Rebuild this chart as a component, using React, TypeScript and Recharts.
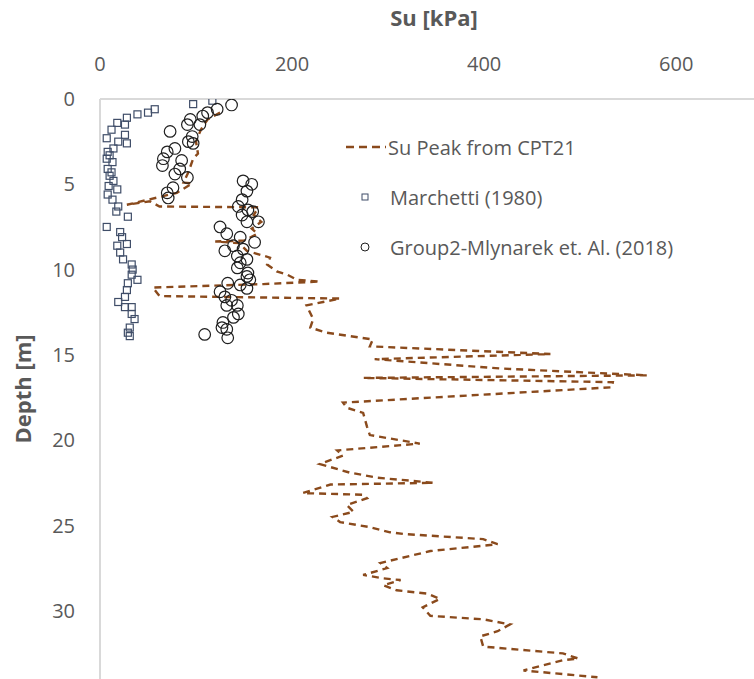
import { ScatterChart, Scatter, XAxis, YAxis, Legend } from 'recharts';

const SU_TICKS = [0, 200, 400, 600];
const DEPTH_TICKS = [0, 5, 10, 15, 20, 25, 30];

// Su Peak from CPT21 (dashed trace, in depth order)
const cptSu = [
  125, 112, 105, 100, 102, 97, 92, 87, 96, 80, 28, 52, 62, 165, 160, 168, 158, 164, 150, 120,
  145, 153, 177, 174, 184, 195, 205, 229, 170, 55, 62, 250, 215, 222, 219, 236, 284, 281, 469, 286,
  418, 570, 274, 534, 533, 253, 257, 274, 278, 281, 333, 247, 253, 229, 260, 289, 347, 240, 211, 274,
  278, 257, 264, 242, 250, 281, 302, 316, 399, 414, 344, 292, 299, 274, 295, 313, 295, 309, 341, 354,
  336, 344, 399, 427, 414, 396, 399, 482, 498, 482, 441, 518,
];
const cptDepth = [
  0.8, 1.2, 1.8, 2.5, 3.2, 3.5, 4.3, 4.9, 4.95, 5.5, 6.2, 6.0, 6.3, 6.35, 6.8, 7.2, 7.6, 7.9, 8.3, 8.35,
  8.45, 8.9, 9.3, 9.7, 10.1, 10.3, 10.6, 10.7, 10.85, 11.05, 11.55, 11.7, 12.1, 12.9, 13.4, 13.7, 14.1, 14.5, 14.95, 15.25,
  15.8, 16.2, 16.35, 16.6, 16.9, 17.8, 18.1, 18.4, 19.2, 19.7, 20.2, 20.6, 20.9, 21.4, 21.9, 22.2, 22.5, 22.6, 23.1, 23.2,
  23.4, 23.8, 24.2, 24.5, 24.8, 25.1, 25.4, 25.5, 25.8, 26.1, 26.5, 27.2, 27.5, 27.9, 28.1, 28.2, 28.5, 28.8, 29.0, 29.3,
  29.8, 30.3, 30.5, 30.8, 31.2, 31.5, 32.1, 32.5, 32.8, 32.9, 33.5, 33.9,
];

// Marchetti (1980)
const marchettiSu = [
  97, 117, 57, 50, 39, 28, 18, 26, 12, 26, 7, 19, 28, 14, 8, 10, 7, 13, 12, 8, 10, 14, 9, 18, 8, 13,
  19, 17, 29, 7, 21, 23, 28, 18, 21, 24, 33, 34, 33, 39, 29, 28, 26, 19, 26, 33, 33, 36, 31, 29, 31,
];
const marchettiDepth = [
  0.3, 0.1, 0.6, 0.8, 0.9, 1.1, 1.4, 1.5, 1.8, 2.1, 2.3, 2.5, 2.6, 2.9, 3.1, 3.3, 3.5, 3.7, 4.3, 4.1, 4.5, 4.8, 5.1, 5.3, 5.6, 5.9,
  6.3, 6.6, 6.9, 7.5, 7.8, 8.1, 8.5, 8.6, 9.0, 9.4, 9.7, 10.0, 10.3, 10.6, 10.8, 11.2, 11.6, 11.9, 12.2, 12.2, 12.6, 12.9, 13.4, 13.7, 13.9,
];

// Group2-Mlynarek et. Al. (2018)
const mlynarekSu = [
  137, 122, 112, 107, 94, 91, 104, 73, 96, 92, 97, 78, 70, 66, 85, 65, 83, 78, 91, 76, 70, 71,
  149, 158, 153, 148, 144, 154, 159, 148, 153, 165, 125, 132, 146, 161, 139, 149, 130, 143, 153, 146,
  143, 154, 153, 156, 133, 146, 153, 125, 130, 137, 132, 143, 144, 139, 128, 127, 132, 109, 133,
];
const mlynarekDepth = [
  0.35, 0.6, 0.8, 1.0, 1.2, 1.5, 1.5, 1.9, 2.2, 2.5, 2.6, 2.9, 3.1, 3.5, 3.6, 3.9, 4.1, 4.4, 4.6, 5.2, 5.5, 5.8,
  4.8, 5.0, 5.4, 5.9, 6.3, 6.5, 6.6, 6.8, 7.2, 7.2, 7.5, 7.9, 8.1, 8.4, 8.6, 8.8, 8.9, 9.2, 9.4, 9.6,
  9.9, 10.2, 10.4, 10.6, 10.8, 10.9, 11.1, 11.3, 11.6, 11.8, 12.1, 12.1, 12.6, 12.8, 13.1, 13.4, 13.5, 13.8, 14.0,
];

const toPoints = (su: number[], depth: number[]) => su.map((v, i) => ({ su: v, depth: depth[i] }));

const cptData = toPoints(cptSu, cptDepth);
const marchettiData = toPoints(marchettiSu, marchettiDepth);
const mlynarekData = toPoints(mlynarekSu, mlynarekDepth);

const BROWN = '#8a4a1c';
const SLATE = '#3f4d68';
const INK = '#1f1f1f';
const TEXT = '#595959';
const AXIS = '#d9d9d9';
const FONT = "'Open Sans', sans-serif";

const SquareDot = (p: any) => (
  <rect x={p.cx - 3.5} y={p.cy - 3.5} width={7} height={7} fill="none" stroke={SLATE} strokeWidth={1.2} />
);
const CircleDot = (p: any) => (
  <circle cx={p.cx} cy={p.cy} r={5.8} fill="none" stroke={INK} strokeWidth={1.2} />
);
const NoDot = () => <g />;

function LegendBox() {
  const row = { display: 'flex', alignItems: 'center', height: 50 } as const;
  return (
    <div style={{ fontFamily: FONT, fontSize: 20, color: TEXT, whiteSpace: 'nowrap', textAlign: 'left' }}>
      <div style={row}>
        <svg width={45} height={10}>
          <line x1={3} y1={5} x2={43} y2={5} stroke={BROWN} strokeWidth={2.4} strokeDasharray="8 5" />
        </svg>
        <span>Su Peak from CPT21</span>
      </div>
      <div style={row}>
        <svg width={47} height={12}>
          <rect x={19} y={3} width={6} height={6} fill="none" stroke={SLATE} strokeWidth={1} />
        </svg>
        <span>Marchetti (1980)</span>
      </div>
      <div style={row}>
        <svg width={47} height={12}>
          <circle cx={22} cy={6} r={4} fill="none" stroke={INK} strokeWidth={1} />
        </svg>
        <span>Group2-Mlynarek et. Al. (2018)</span>
      </div>
    </div>
  );
}

export default function App() {
  return (
    <div style={{ position: 'absolute', left: 0, top: 0, background: '#fff' }}>
      <ScatterChart width={754} height={679} margin={{ top: 0, right: 0, bottom: 0, left: 0 }}>
        <XAxis
          type="number"
          dataKey="su"
          xAxisId="su"
          orientation="top"
          domain={[0, 681]}
          ticks={SU_TICKS}
          height={99}
          allowDataOverflow
          axisLine={{ stroke: AXIS, strokeWidth: 2 }}
          tickLine={false}
          tickMargin={22}
          tick={{ fontSize: 20, fill: TEXT, fontFamily: FONT }}
          label={{ value: 'Su [kPa]', position: 'insideTop', offset: 10, dx: 7, fontSize: 22, fontWeight: 700, fill: TEXT, fontFamily: FONT }}
        />
        <YAxis
          type="number"
          dataKey="depth"
          yAxisId="depth"
          reversed
          domain={[0, 34]}
          ticks={DEPTH_TICKS}
          width={100}
          allowDataOverflow
          axisLine={{ stroke: AXIS, strokeWidth: 2 }}
          tickLine={false}
          tickMargin={19}
          tick={{ fontSize: 20, fill: TEXT, fontFamily: FONT }}
          label={{ value: 'Depth [m]', angle: -90, position: 'center', dx: -27, fontSize: 22, fontWeight: 700, fill: TEXT, fontFamily: FONT }}
        />
        <Legend
          layout="horizontal"
          align="center"
          verticalAlign="middle"
          wrapperStyle={{ left: 343, top: 122, width: 420 }}
          content={<LegendBox />}
        />
        <Scatter
          name="Su Peak from CPT21"
          data={cptData}
          xAxisId="su"
          yAxisId="depth"
          line={{ stroke: BROWN, strokeWidth: 2.4, strokeDasharray: '7 5' }}
          shape={NoDot}
          isAnimationActive={false}
        />
        <Scatter
          name="Marchetti (1980)"
          data={marchettiData}
          xAxisId="su"
          yAxisId="depth"
          shape={SquareDot}
          isAnimationActive={false}
        />
        <Scatter
          name="Group2-Mlynarek et. Al. (2018)"
          data={mlynarekData}
          xAxisId="su"
          yAxisId="depth"
          shape={CircleDot}
          isAnimationActive={false}
        />
      </ScatterChart>
    </div>
  );
}
